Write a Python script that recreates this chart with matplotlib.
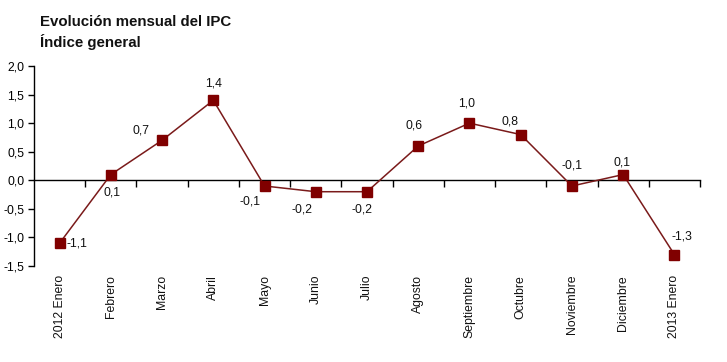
import matplotlib
matplotlib.use("Agg")
import matplotlib.pyplot as plt
import matplotlib.transforms as mtransforms
from matplotlib.ticker import FuncFormatter, FixedLocator

plt.rcParams['font.family'] = ['Liberation Sans', 'DejaVu Sans']

months = ["2012 Enero", "Febrero", "Marzo", "Abril", "Mayo", "Junio", "Julio",
          "Agosto", "Septiembre", "Octubre", "Noviembre", "Diciembre", "2013 Enero"]
values = [-1.1, 0.1, 0.7, 1.4, -0.1, -0.2, -0.2, 0.6, 1.0, 0.8, -0.1, 0.1, -1.3]
# label offsets in pixels (dx, dy) relative to point
label_offsets = [(17, 0), (1, -18), (-21, 10), (0, 17), (-15, -15), (-14, -18), (-5, -18),
                 (-4, 20), (-3, 20), (-11, 13), (0, 20), (-1, 12), (8, 18)]

fig = plt.figure(figsize=(7.27, 3.62), dpi=100)
W, H = 727, 362
ax = fig.add_axes([34 / W, 1 - 266 / H, 666 / W, 200 / H])

x = list(range(len(months)))
ax.plot(x, values, color='#7a1a1a', lw=1.1, marker='s', markersize=7,
        markerfacecolor='#800000', markeredgecolor='#800000', zorder=3)

for xi, v, (dx, dy) in zip(x, values, label_offsets):
    ax.annotate(f"{v:.1f}".replace('.', ','), (xi, v), xytext=(dx * 0.72, dy * 0.72),
                textcoords='offset points', ha='center', va='center', fontsize=8.8,
                color='#111111')

ax.set_xlim(-0.5, len(months) - 0.5)
ax.set_ylim(-1.5, 2.0)
ax.set_yticks([-1.5, -1.0, -0.5, 0.0, 0.5, 1.0, 1.5, 2.0])
ax.yaxis.set_major_formatter(FuncFormatter(lambda v, p: f"{v:.1f}".replace('.', ',')))
ax.tick_params(axis='y', direction='out', length=4, width=1, labelsize=8.8, pad=3)

for s in ['top', 'right']:
    ax.spines[s].set_visible(False)
ax.spines['bottom'].set_position(('data', 0))
ax.spines['left'].set_linewidth(1)
ax.spines['bottom'].set_linewidth(1)

# ticks at category boundaries
ax.xaxis.set_major_locator(FixedLocator([i + 0.5 for i in range(len(months))]))
ax.xaxis.set_major_formatter(FuncFormatter(lambda v, p: ""))
ax.tick_params(axis='x', direction='out', length=5, width=1)

offset = mtransforms.ScaledTranslation(0, -9 / 100, fig.dpi_scale_trans)
for xi, m in zip(x, months):
    ax.text(xi, -1.5, m, rotation=90, ha='center', va='top', fontsize=8.8,
            transform=ax.transData + offset, color='#111111')

fig.text(40 / W, 1 - 22 / H, "Evolución mensual del IPC", fontsize=10.8, fontweight='bold',
         ha='left', va='center', color='#111111')
fig.text(40 / W, 1 - 42 / H, "Índice general", fontsize=10.8, fontweight='bold',
         ha='left', va='center', color='#111111')

fig.savefig("out.png", dpi=100)
